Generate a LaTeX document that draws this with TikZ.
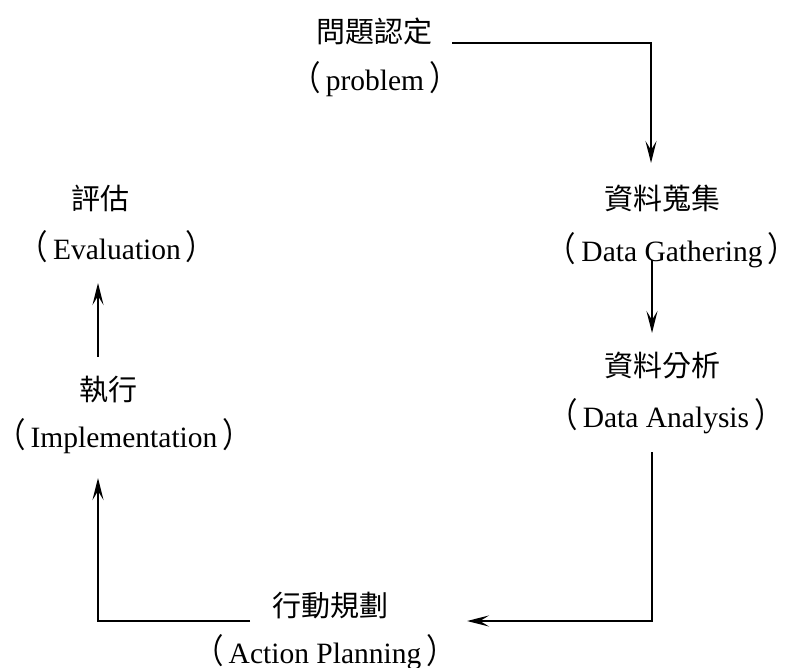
\documentclass[tikz,border=0pt]{standalone}
\usepackage{fontspec}
\setmainfont{Liberation Serif}
\newfontfamily\cjk{Noto Sans CJK TC}
\usetikzlibrary{arrows.meta,calc}
\newcommand{\lp}{{\cjk\scalebox{1}[1.15]{（}}\hspace{5pt}}
\newcommand{\rp}{\hspace{5pt}{\cjk\scalebox{1}[1.15]{）}}}
\begin{document}
\begin{tikzpicture}[x=1pt,y=-1pt,
  zh/.style={inner sep=0pt,font=\cjk\fontsize{29}{32}\selectfont},
  en/.style={inner sep=0pt,font=\fontsize{29.5}{32}\selectfont},
  flow/.style={line width=1.7pt,-{Stealth[length=22pt,width=11pt,inset=9pt]}}]
\useasboundingbox (0,0) rectangle (785,668);
% labels
\node[zh] (prob) at (374,31) {問題認定};
\node[en] (probE) at (375,79) {\lp problem\rp};
\node[zh] (gath) at (662,199) {資料蒐集};
\node[en] (gathE) at (672,250) {\lp Data Gathering\rp};
\node[zh] (anal) at (662,366) {資料分析};
\node[en] (analE) at (666,416) {\lp Data Analysis\rp};
\node[zh] (plan) at (330,606) {行動規劃};
\node[en] (planE) at (325,652) {\lp Action Planning\rp};
\node[zh] (impl) at (108,390) {執行};
\node[en] (implE) at (124,436) {\lp Implementation\rp};
\node[zh] (eval) at (100,198) {評估};
\node[en] (evalE) at (117,247) {\lp Evaluation\rp};
% corner points
\coordinate (c1) at (651,43);
\coordinate (c2) at (652,621);
\coordinate (c3) at (98,621);
% connectors
\draw[flow] (prob.east |- c1) ++(20,0) -- (c1) -- (651,163);
\draw[flow] (652,260) -- (652,333);
\draw[flow] (652,452) -- (c2) -- (467,621);
\draw[flow] (250,621) -- (c3) -- (98,478);
\draw[flow] (98,357) -- (98,283);
\end{tikzpicture}
\end{document}
